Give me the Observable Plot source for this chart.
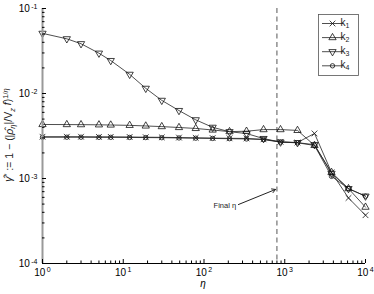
<!DOCTYPE html>
<html><head><meta charset="utf-8">
<script src="https://cdn.jsdelivr.net/npm/d3@7"></script>
<script src="https://cdn.jsdelivr.net/npm/@observablehq/plot@0.6"></script>
<style>body{margin:0;background:#fff} #chart{width:374px;height:294px}</style>
</head><body><div id="chart"></div>
<script>
const eta = [1,2,3,5,7,12,19,30,49,79,128,207,336,546,886,1438,2336,3793,6158,10000];
const k1 = [0.00310,0.00310,0.00310,0.00309,0.00309,0.00308,0.00306,0.00305,0.00303,0.00301,0.00299,0.00297,0.00296,0.00289,0.00270,0.00265,0.00339,0.00118,0.00059,0.00037];
const k2 = [0.00432,0.00431,0.00430,0.00428,0.00426,0.00422,0.00415,0.00408,0.00398,0.00388,0.00372,0.00356,0.00360,0.00376,0.00376,0.00368,0.00245,0.00118,0.00076,0.00046];
const k3 = [0.0510,0.0440,0.0385,0.0298,0.0244,0.0168,0.0115,0.0083,0.0063,0.0049,0.0040,0.00355,0.00338,0.00295,0.00268,0.00264,0.00250,0.00115,0.00076,0.00062];
const k4 = [0.00306,0.00306,0.00306,0.00305,0.00305,0.00304,0.00303,0.00302,0.00300,0.00298,0.00296,0.00294,0.00292,0.00287,0.00268,0.00263,0.00245,0.00106,0.00076,0.00062];
const seriesNames = ["k1","k2","k3","k4"];
const seriesSubs = ["1","2","3","4"];
const seriesValues = [k1,k2,k3,k4];
const seriesSymbols = ["times","triangle","triangle","circle"];
const seriesRotate = [0,0,180,0];
const finalEta = 800;
const finalLabel = "Final η";
const majorX = [1,10,100,1000,10000];
const majorY = [1e-4,1e-3,1e-2,1e-1];
const minorMult = [2,3,4,5,6,7,8,9];
const minorX = [1,10,100,1000].flatMap(d => minorMult.map(m => d*m));
const minorY = [1e-4,1e-3,1e-2].flatMap(d => minorMult.map(m => d*m));

const data = seriesNames.flatMap((k,j) => eta.map((e,i) => ({eta:e, v:seriesValues[j][i], k})));
const arrowData = [{x1:267, y1:4.94e-4, x2:768, y2:7.43e-4}];
const labelData = [{x:250, y:4.8e-4, t:finalLabel}];

const fmt = d => "10^" + Math.round(Math.log10(d));
const font = "Liberation Sans, Arial, Helvetica, sans-serif";
const rOf = s => s === "circle" ? 2.2 : 2.7;

const chart = Plot.plot({
  width:374, height:294, marginLeft:42, marginRight:9, marginTop:8, marginBottom:31,
  style:{fontFamily:font, fontSize:"10px", background:"white", color:"black"},
  x:{type:"log", domain:[1,1e4]},
  y:{type:"log", domain:[1e-4,1e-1]},
  marks:[
    Plot.ruleX([finalEta], {stroke:"#555", strokeWidth:1, strokeDasharray:"5,3.5"}),
    Plot.line(data, {x:"eta", y:"v", z:"k", stroke:"#222", strokeWidth:0.8}),
    ...seriesNames.map((k,j) => Plot.dot(data.filter(d => d.k === k), {
      x:"eta", y:"v", symbol:() => seriesSymbols[j], rotate:seriesRotate[j],
      r: rOf(seriesSymbols[j]), stroke:"#111", strokeWidth:0.8, fill:"none"})),
    Plot.arrow(arrowData, {x1:"x1", y1:"y1", x2:"x2", y2:"y2", stroke:"#222", strokeWidth:1, headLength:6}),
    Plot.text(labelData, {x:"x", y:"y", text:"t", textAnchor:"end", fontSize:7.5, fill:"#222"}),
    Plot.ruleX([1], {stroke:"#999", strokeWidth:2}),
    Plot.ruleY([1e-4], {stroke:"#000", strokeWidth:1}),
    Plot.axisX({ticks:majorX, tickSize:4, dy:-4, fill:"none", label:null}),
    Plot.axisX({ticks:minorX, tickSize:2.5, dy:-2.5, fill:"none", label:null}),
    Plot.axisX({ticks:majorX, tickSize:0, tickPadding:5, tickFormat:fmt, label:null, fontSize:10}),
    Plot.axisY({ticks:majorY, tickSize:4, dx:4, fill:"none", label:null}),
    Plot.axisY({ticks:minorY, tickSize:2.5, dx:2.5, fill:"none", label:null}),
    Plot.axisY({ticks:majorY, tickSize:0, tickPadding:5, tickFormat:fmt, label:null, fontSize:10})
  ]
});
document.getElementById("chart").appendChild(chart);

const svg = d3.select(chart);
svg.selectAll('g[aria-label="x-axis tick label"] text, g[aria-label="y-axis tick label"] text').each(function(){
  const t = d3.select(this);
  const s = t.text();
  if (!s.includes("^")) return;
  const [b, e] = s.split("^");
  t.text(null);
  t.append("tspan").text(b);
  t.append("tspan").attr("dy","-0.45em").attr("font-size","7px").attr("dx","1.5").text(e);
});

svg.append("text").attr("x", 203).attr("y", 287).attr("text-anchor","middle")
  .attr("font-family", font).attr("font-size", 10).attr("font-style","italic").text("η");

const yl = svg.append("text").attr("transform","translate(12,135) rotate(-90)")
  .attr("text-anchor","middle").attr("font-family", font).attr("font-size", 10.5).attr("fill","#222");
yl.append("tspan").attr("font-style","italic").text("γ\u0302");
yl.append("tspan").attr("dy","-0.4em").attr("font-size",7.5).text("*");
yl.append("tspan").attr("dy","0.4em").text(" := 1 − (|");
yl.append("tspan").attr("font-style","italic").text("ρ\u0302");
yl.append("tspan").attr("dy","0.3em").attr("font-size",7.5).attr("font-style","italic").text("η");
yl.append("tspan").attr("dy","-0.3em").text("|/V");
yl.append("tspan").attr("dy","0.3em").attr("font-size",7.5).attr("font-style","italic").text("z");
yl.append("tspan").attr("dy","-0.3em").attr("font-style","italic").text(" f");
yl.append("tspan").text(")");
yl.append("tspan").attr("dy","-0.5em").attr("font-size",7.5).text("1/");
yl.append("tspan").attr("font-size",7.5).attr("font-style","italic").text("η");

const lg = svg.append("g").attr("font-family", font);
lg.append("rect").attr("x",318.5).attr("y",14.5).attr("width",40).attr("height",61)
  .attr("fill","white").attr("stroke","#555").attr("stroke-width",0.8);
seriesNames.forEach((k,j) => {
  const yy = 23.5 + j*14.1;
  lg.append("line").attr("x1",322).attr("x2",343).attr("y1",yy).attr("y2",yy).attr("stroke","#222").attr("stroke-width",0.8);
  const symMap = {times:d3.symbolTimes, triangle:d3.symbolTriangle, circle:d3.symbolCircle};
  const r = rOf(seriesSymbols[j]);
  lg.append("path").attr("d", d3.symbol(symMap[seriesSymbols[j]], Math.PI*r*r)())
    .attr("transform",`translate(332.5,${yy}) rotate(${seriesRotate[j]})`)
    .attr("fill","none").attr("stroke","#111").attr("stroke-width",0.8);
  const tx = lg.append("text").attr("x",345).attr("y",yy+2).attr("font-size",10).attr("fill","#222");
  tx.append("tspan").text("k");
  tx.append("tspan").attr("dy","0.35em").attr("font-size",7).text(seriesSubs[j]);
});
</script>
</body></html>
